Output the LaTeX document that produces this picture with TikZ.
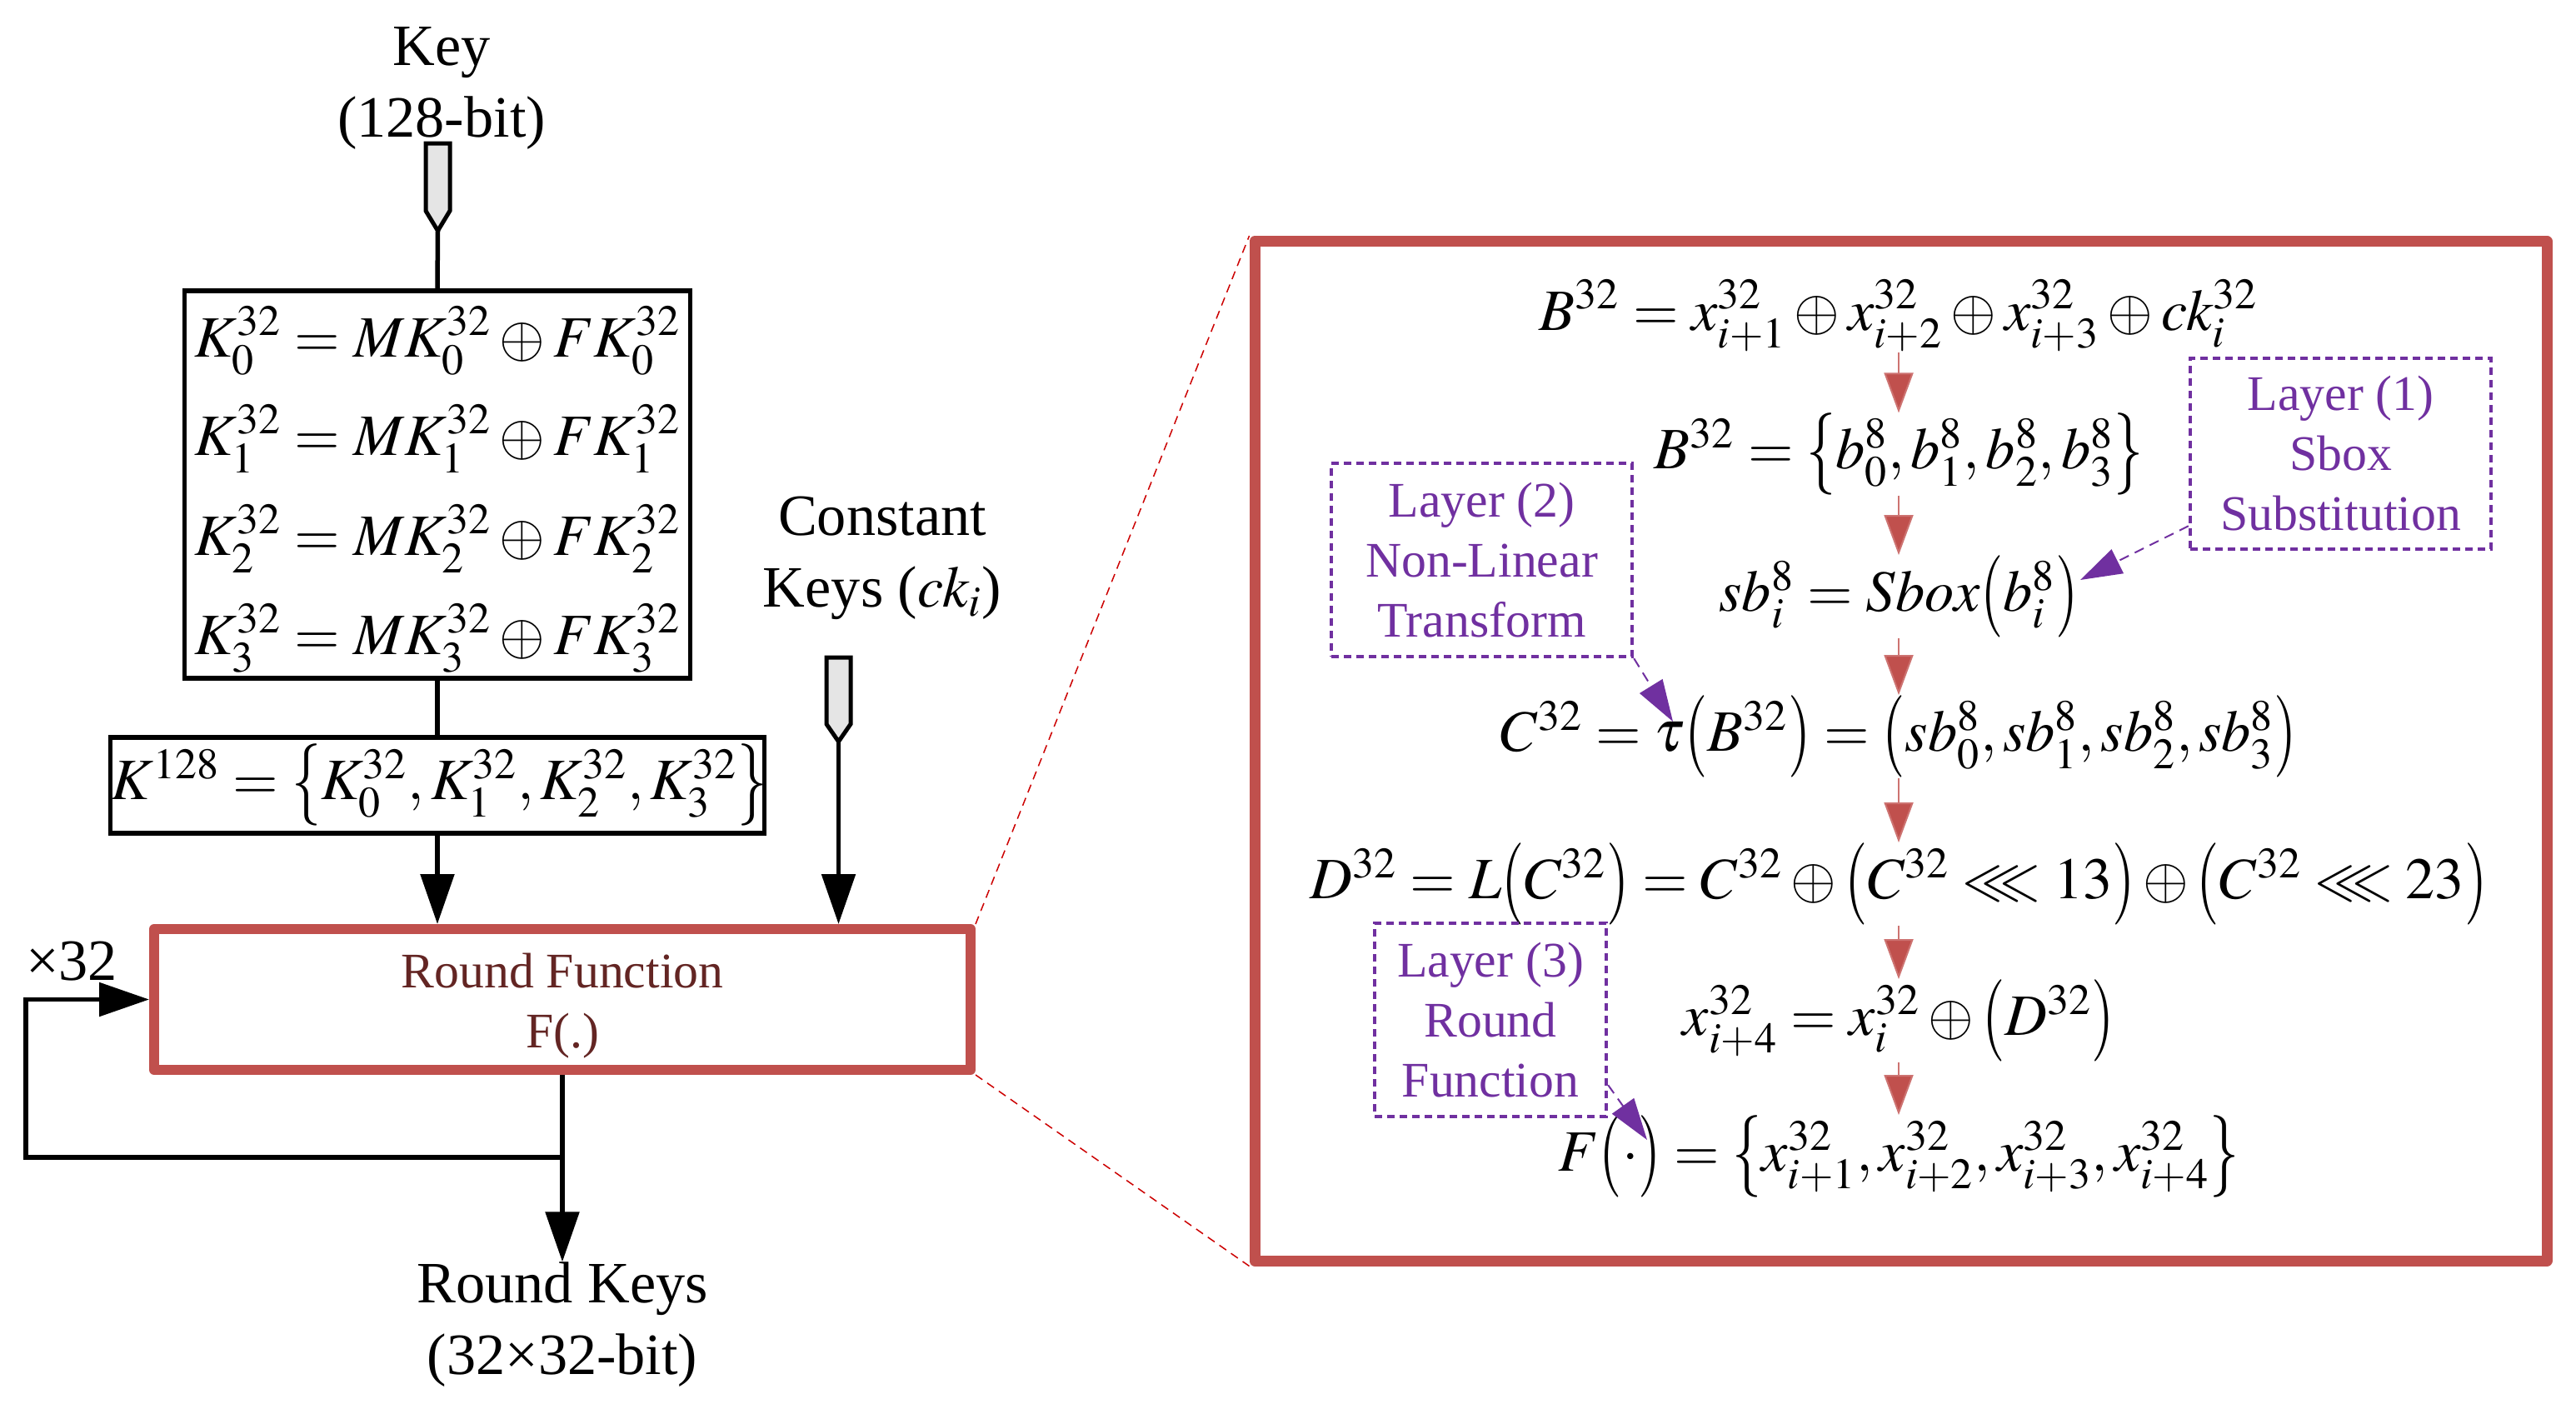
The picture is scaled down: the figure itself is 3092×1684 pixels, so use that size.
\documentclass[tikz,border=0pt]{standalone}
\usepackage{amsmath}
\usepackage{mathptmx}
\usepackage{amssymb}
\usepackage{graphicx}
\usepackage{fontspec}
\setmainfont{Liberation Serif}
\usetikzlibrary{arrows.meta,calc}
\definecolor{rfred}{HTML}{C0504D}
\definecolor{rftext}{HTML}{632523}
\definecolor{lpurple}{HTML}{7030A0}
\newcommand\fbig{\fontsize{20}{24.5}\selectfont}
\newcommand\feq{\fontsize{20}{24}\selectfont}
\newcommand\fmid{\fontsize{17}{20.5}\selectfont}
\newcommand\delimscale{1.4}
\newcommand\LP{\mathopen{\vcenter{\hbox{\scalebox{1}[\delimscale]{$($}}}}}
\newcommand\RP{\mathclose{\vcenter{\hbox{\scalebox{1}[\delimscale]{$)$}}}}}
\newcommand\LB{\mathopen{\vcenter{\hbox{\scalebox{1}[\delimscale]{$\{$}}}}}
\newcommand\RB{\mathclose{\vcenter{\hbox{\scalebox{1}[\delimscale]{$\}$}}}}}
\tikzset{
  txt/.style={align=center,inner sep=0pt,font=\fbig},
  blk/.style={draw=black,line width=0.55mm},
  bigtip/.style={-{Triangle[length=6mm,width=4mm]}},
  hollow/.style={draw=black,fill=black!10,line width=0.5mm,line join=miter},
  eqn/.style={inner sep=0pt,font=\feq},
  redarr/.style={draw=rfred!80,line width=0.2mm,-{Triangle[length=4.8mm,width=3.5mm,fill=rfred]}},
  layerbox/.style={draw=lpurple,line width=0.45mm,dash pattern=on 0.9mm off 0.6mm,text=lpurple,align=center,font=\fmid,inner sep=0pt},
  parr/.style={draw=lpurple,line width=0.2mm,dash pattern=on 1.2mm off 0.8mm,-{Triangle[length=5mm,width=3.2mm,fill=lpurple]}},
  zoomline/.style={draw=red!80!black,line width=0.15mm,dash pattern=on 1mm off 0.7mm}
}
\begin{document}
\begin{tikzpicture}[x=0.1mm,y=-0.1mm]
\useasboundingbox (0,0) rectangle (3092,1684);
% ---------- left part
\node[txt] (key) at (530,106) {Key\\(128-bit)};
\draw[hollow] (511,172) -- (540,172) -- (540,253) -- (525.5,277) -- (511,253) -- cycle;
\coordinate (ktip) at (525.5,277);
\node[blk,minimum width=60.7mm,minimum height=46.5mm,inner sep=0pt] (kbox) at (525,581.5) {};
\node[eqn,anchor=west] (k0) at (233,409) {$K_0^{32} = MK_0^{32}\oplus FK_0^{32}$};
\node[eqn,anchor=west] (k1) at (233,527) {$K_1^{32} = MK_1^{32}\oplus FK_1^{32}$};
\node[eqn,anchor=west] (k2) at (233,647) {$K_2^{32} = MK_2^{32}\oplus FK_2^{32}$};
\node[eqn,anchor=west] (k3) at (233,766) {$K_3^{32} = MK_3^{32}\oplus FK_3^{32}$};
\draw[blk] (ktip) -- (kbox.north);
\node[blk,minimum width=78.5mm,minimum height=11.5mm,inner sep=0pt] (kbig) at (525,942.5) {};
\node[eqn] (kbigtxt) at (527,942) {$K^{128} = \LB K_0^{32}, K_1^{32}, K_2^{32}, K_3^{32}\RB$};
\draw[blk] (kbox.south) -- (kbig.north);
\node[draw=rfred,line width=1.2mm,line join=round,minimum width=98mm,minimum height=16.9mm,inner sep=0pt] (rbox) at (675,1199.5) {};
\node[align=center,text=rftext,font=\fmid,inner sep=0pt] (rtxt) at (675,1207) {Round Function\\F(.)};
\draw[blk,bigtip] (kbig.south) -- (kbig.south |- rbox.north);
\node[txt] (ck) at (1059,670) {Constant\\Keys ($ck_i$)};
\draw[hollow] (992,789) -- (1021,789) -- (1021,869) -- (1006.5,890) -- (992,869) -- cycle;
\coordinate (ctip) at (1006.5,890);
\draw[blk,bigtip] (ctip) -- (ctip |- rbox.north);
\node[txt] (x32) at (86,1154) {×32};
\coordinate (junc) at (675,1389);
\coordinate (loopc) at (31,1389);
\node[txt] (rk) at (675,1590) {Round Keys\\(32×32-bit)};
\draw[blk] (rbox.south) -- (junc);
\draw[blk,bigtip,line join=miter] (junc) -- (loopc) |- (rbox.west);
\draw[blk,bigtip] (junc) -- (rk.north);
% ---------- right part
\node[draw=rfred,line width=1.3mm,line join=round,minimum width=155.1mm,minimum height=122.35mm,inner sep=0pt] (big) at (2281.5,901.25) {};
\draw[zoomline] (rbox.north east) -- (big.north west);
\draw[zoomline] (rbox.south east) -- (big.south west);
\node[eqn] (e1) at (2279,379) {$B^{32} = x_{i+1}^{32}\oplus x_{i+2}^{32}\oplus x_{i+3}^{32}\oplus ck_i^{32}$};
\node[eqn] (e2) at (2279,545) {$B^{32} = \LB b_0^8, b_1^8, b_2^8, b_3^8\RB$};
\node[eqn] (e3) at (2279,716) {$sb_i^8 = Sbox\LP b_i^8\RP$};
\node[eqn] (e4) at (2279,884) {$C^{32} = \tau\LP B^{32}\RP = \LP sb_0^8, sb_1^8, sb_2^8, sb_3^8\RP$};
\node[eqn] (e5) at (2279,1061) {$D^{32} = L\LP C^{32}\RP = C^{32}\oplus\LP C^{32}\lll 13\RP\oplus\LP C^{32}\lll 23\RP$};
\node[eqn] (e6) at (2279,1225) {$x_{i+4}^{32} = x_i^{32}\oplus\LP D^{32}\RP$};
\node[eqn] (e7) at (2279,1388) {$F\LP\cdot\RP = \LB x_{i+1}^{32}, x_{i+2}^{32}, x_{i+3}^{32}, x_{i+4}^{32}\RB$};
\draw[redarr] (e1.south) -- (e2.north);
\draw[redarr] (e2.south) -- (e3.north);
\draw[redarr] (e3.south) -- (e4.north);
\draw[redarr] (e4.south) -- (e5.north);
\draw[redarr] (e5.south) -- (e6.north);
\draw[redarr] (e6.south) -- (e7.north);
\node[layerbox,minimum width=36.1mm,minimum height=22.9mm] (L1) at (2809.5,544.5) {Layer (1)\\Sbox\\Substitution};
\node[layerbox,minimum width=36.1mm,minimum height=23.2mm] (L2) at (1778.5,672) {Layer (2)\\Non-Linear\\Transform};
\node[layerbox,minimum width=27.8mm,minimum height=23.2mm] (L3) at (1789,1224) {Layer (3)\\Round\\Function};
\coordinate (sbx) at (2497,696);
\coordinate (tau) at (2008,866);
\coordinate (fpt) at (1977,1368);
\draw[parr] ([yshift=3mm]L1.south west) -- (sbx);
\draw[parr] (L2.south east) -- (tau);
\draw[parr] ([yshift=4mm]L3.south east) -- (fpt);
\end{tikzpicture}
\end{document}
